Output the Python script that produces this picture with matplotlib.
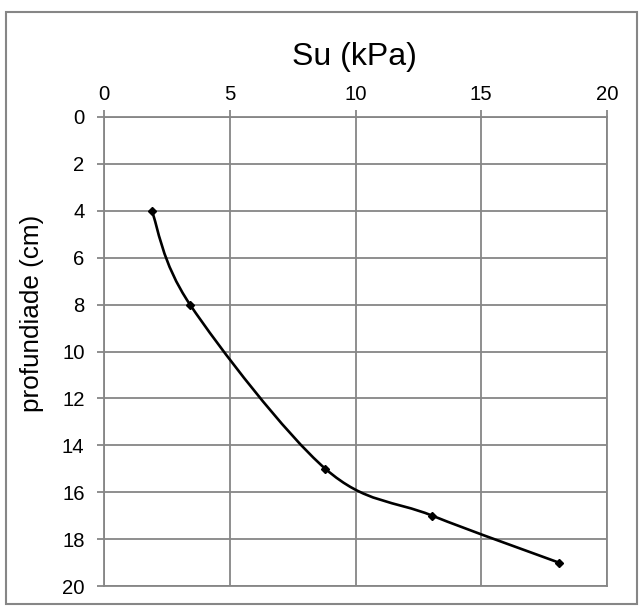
import numpy as np
import matplotlib
matplotlib.use("Agg")
import matplotlib.pyplot as plt
from matplotlib.patches import Rectangle
from matplotlib.path import Path
from matplotlib.patches import PathPatch

plt.rcParams['font.family'] = ['Liberation Sans', 'DejaVu Sans']

# Undrained shear strength profile
su_kpa = [1.9, 3.42, 8.8, 13.05, 18.08]
depth_cm = [4, 8, 15, 17, 19]
x_ticks = [0, 5, 10, 15, 20]
y_ticks = [0, 2, 4, 6, 8, 10, 12, 14, 16, 18, 20]

W, H = 644, 609
fig = plt.figure(figsize=(W / 100, H / 100), dpi=100)
fig.patch.set_facecolor('white')

ax_l, ax_r, ax_t, ax_b = 104, 607, 117, 586
ax = fig.add_axes([ax_l / W, 1 - ax_b / H, (ax_r - ax_l) / W, (ax_b - ax_t) / H])

grey = '#868686'
ax.set_xlim(0, 20)
ax.set_ylim(20, 0)
ax.set_xticks(x_ticks)
ax.set_yticks(y_ticks)
ax.xaxis.tick_top()
ax.grid(True, color=grey, linewidth=1.3)
ax.set_axisbelow(True)
for s in ax.spines.values():
    s.set_color(grey)
    s.set_linewidth(1.3)
ax.tick_params(axis='both', direction='out', length=5, width=1.3, color=grey,
               labelsize=14.6, labelcolor='black')
ax.tick_params(axis='x', pad=4)
ax.tick_params(axis='y', pad=9)

# Smoothed curve through the points (cubic Bezier, Catmull-Rom style tangents)
px = np.array(su_kpa, dtype=float)
py = np.array(depth_cm, dtype=float)
pts = np.column_stack([px, py])
n = len(pts)
verts = [tuple(pts[0])]
codes = [Path.MOVETO]
for i in range(n - 1):
    p0 = pts[i - 1] if i > 0 else pts[i]
    p1 = pts[i]
    p2 = pts[i + 1]
    p3 = pts[i + 2] if i + 2 < n else pts[i + 1]
    c1 = p1 + (p2 - p0) / 6.0
    c2 = p2 - (p3 - p1) / 6.0
    verts += [tuple(c1), tuple(c2), tuple(p2)]
    codes += [Path.CURVE4] * 3
ax.add_patch(PathPatch(Path(verts, codes), facecolor='none', edgecolor='black',
                       linewidth=1.9, zorder=3))
ax.plot(su_kpa, depth_cm, linestyle='none', marker='D', markersize=4.2,
        color='black', zorder=4)

fig.text(354 / W, 1 - 57 / H, 'Su (kPa)', ha='center', va='center', fontsize=23)
fig.text(32 / W, 1 - 313 / H, 'profundiade (cm)', ha='center', va='center',
         rotation=90, fontsize=18.8)

# Chart-area border
fig.add_artist(Rectangle((6 / W, 1 - 604 / H), (637 - 6) / W, (604 - 12) / H,
                         transform=fig.transFigure, facecolor='none',
                         edgecolor=grey, linewidth=1.5))

fig.savefig('out.png', dpi=100)
